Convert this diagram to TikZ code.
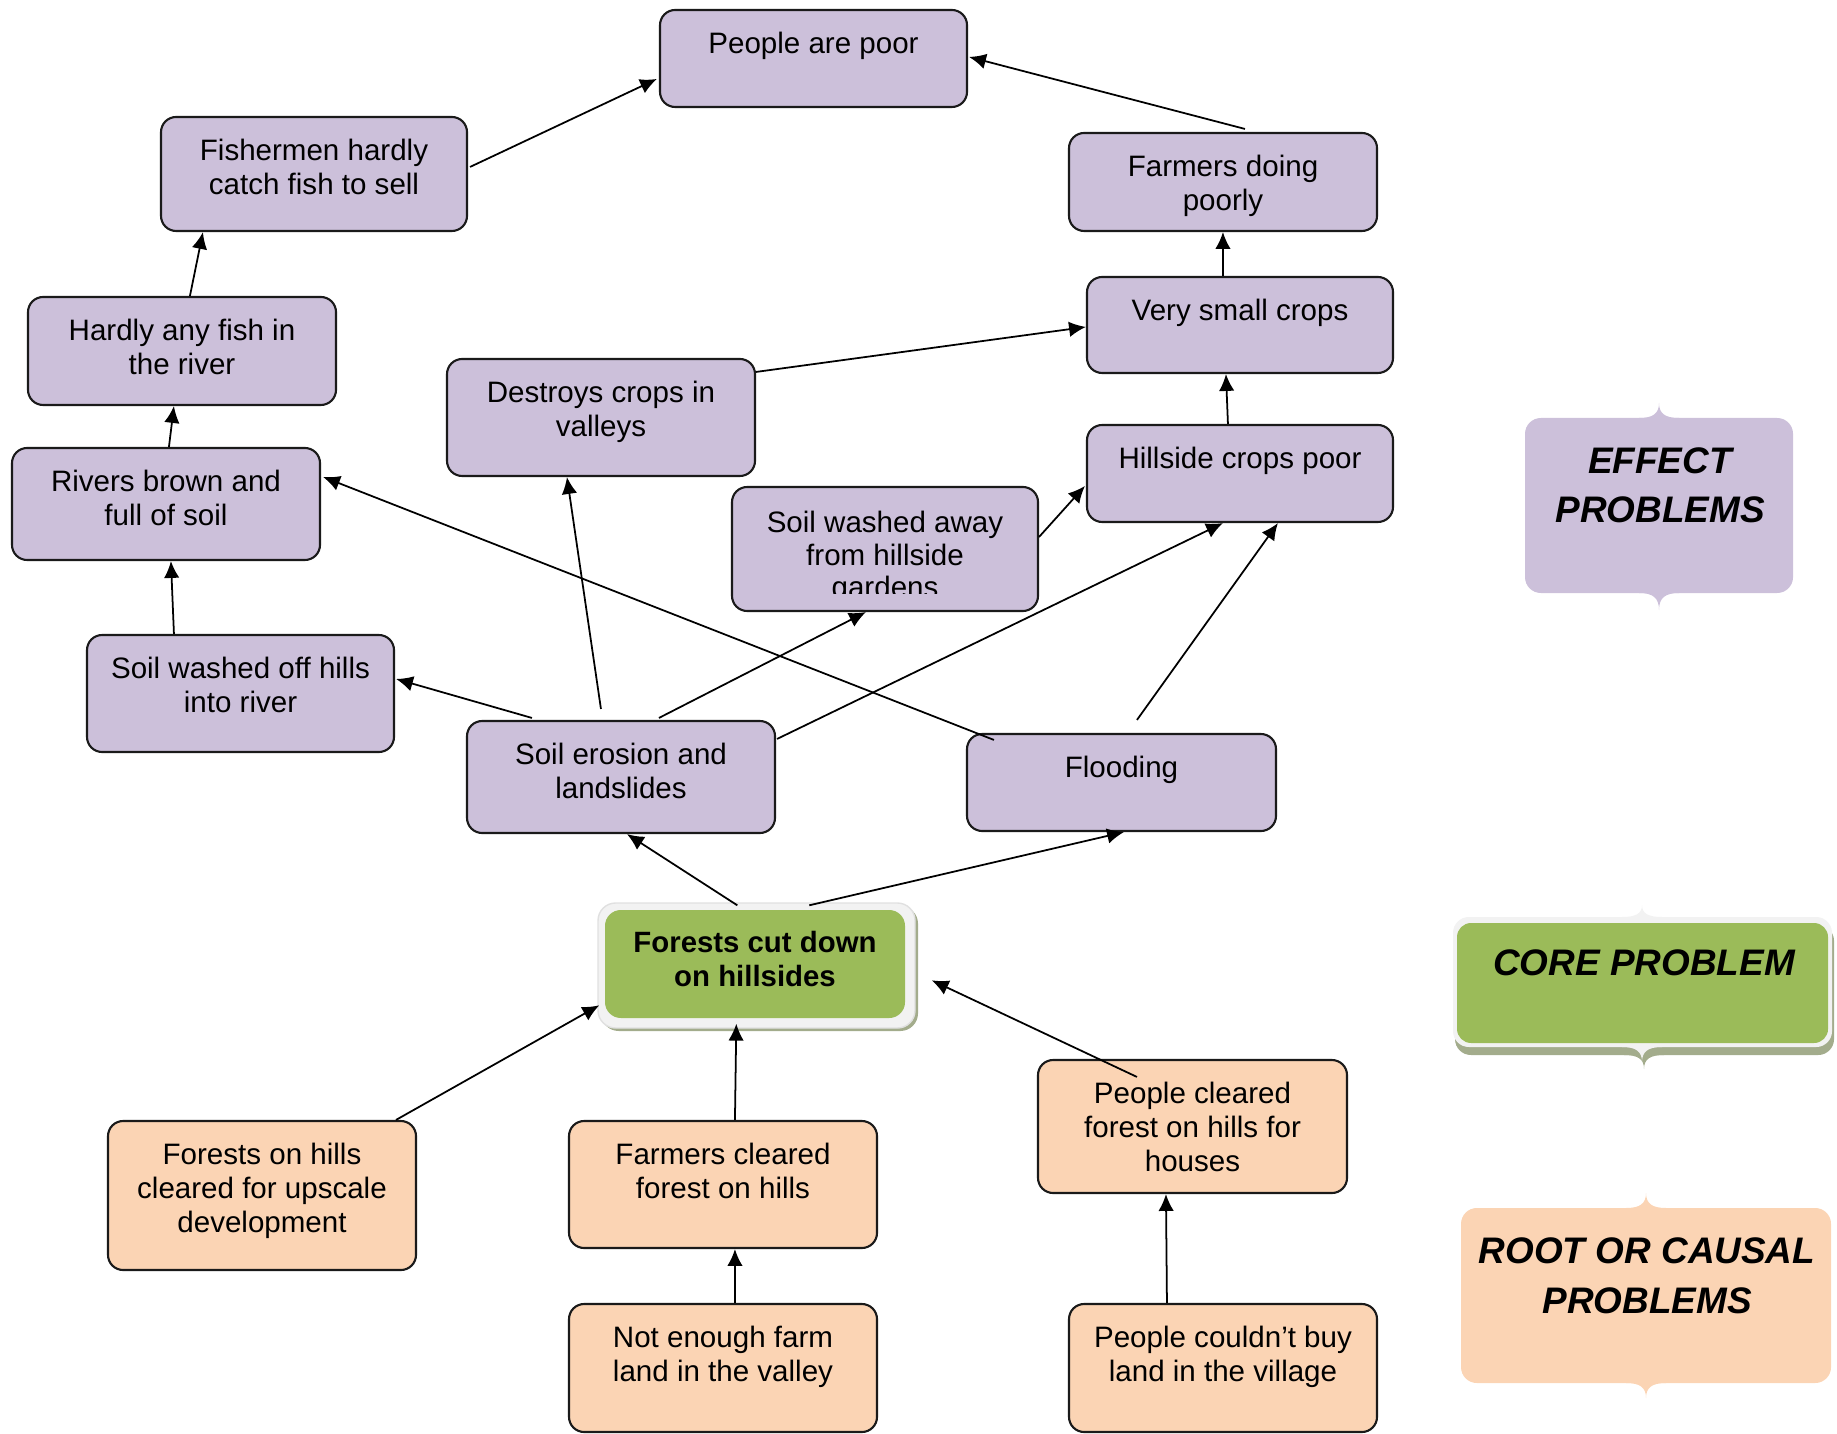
\documentclass[tikz,border=0pt]{standalone}
\usepackage{fontspec}
\setmainfont{Liberation Sans}
\usetikzlibrary{fit,calc,arrows.meta}
\definecolor{effc}{HTML}{CCC0DA}
\definecolor{rootc}{HTML}{FBD4B4}
\definecolor{corec}{HTML}{9BBB59}
\definecolor{edgec}{HTML}{1A1A1A}
\definecolor{coreshadow}{HTML}{A3AC8C}
\definecolor{coreborder}{HTML}{F2F2F2}
\tikzset{
 effbox/.style={draw=edgec, line width=0.6pt, fill=effc, rounded corners=4.3pt, inner sep=0pt},
 rootbox/.style={effbox, fill=rootc},
 txt/.style={anchor=base, align=center, font=\fontsize{8.4}{9.7}\selectfont, inner sep=0pt},
 arr/.style={-{Latex[length=4.8pt,width=4.4pt]}, line width=0.5pt, black},
 lgtxt/.style={anchor=base, align=center, font=\fontsize{10.5}{14.2}\selectfont\bfseries\itshape, inner sep=0pt}
}
% optional arg: number of lines (anchor base = baseline of last line)
\newcommand\pbox[8][1]{\node[#2, fit={(#4,#5) (#6,#7)}] (#3) {};
 \node[txt] (#3-t) at ($(#3.north)+(0,{44.5+(#1-1)*34.1})$) {#8};}
\newcommand\cusp[3]{(#1-20,#2) .. controls (#1-6,#2) and (#1,{#2+(#3-#2)*0.3}) .. (#1,#3) .. controls (#1,{#2+(#3-#2)*0.3}) and (#1+6,#2) .. (#1+20,#2) -- (#1,{#2-(#3-#2)*0.5}) -- cycle}
\begin{document}
\begin{tikzpicture}[x=0.01cm,y=-0.01cm]
\useasboundingbox (0,0) rectangle (1837,1434);

% effect boxes
\pbox{effbox}{poor}{660}{10}{967}{107}{People are poor}
\pbox[2]{effbox}{fish}{161}{117}{467}{231}{Fishermen hardly\\catch fish to sell}
\pbox[2]{effbox}{fdp}{1069}{133}{1377}{231}{Farmers doing\\poorly}
\pbox{effbox}{vsc}{1087}{277}{1393}{373}{Very small crops}
\pbox[2]{effbox}{hafish}{28}{297}{336}{405}{Hardly any fish in\\the river}
\pbox[2]{effbox}{destroys}{447}{359}{755}{476}{Destroys crops in\\valleys}
\pbox{effbox}{hcp}{1087}{425}{1393}{522}{Hillside crops poor}
\pbox[2]{effbox}{rivers}{12}{448}{320}{560}{Rivers brown and\\full of soil}
\node[effbox, fit={(732,487) (1038,611)}] (swa) {};
\begin{scope}
\clip (732,487) rectangle (1038,593);
\node[txt, font=\fontsize{8.4}{9.2}\selectfont] (swa-t) at ($(swa.north)+(0,{47+2*32.3})$) {Soil washed away\\from hillside\\gardens};
\end{scope}
\pbox[2]{effbox}{swo}{87}{635}{394}{752}{Soil washed off hills\\into river}
\pbox[2]{effbox}{ero}{467}{721}{775}{833}{Soil erosion and\\landslides}
\pbox{effbox}{flood}{967}{734}{1276}{831}{Flooding}

% root boxes
\pbox[3]{rootbox}{fohc}{108}{1121}{416}{1270}{Forests on hills\\cleared for upscale\\development}
\pbox[2]{rootbox}{fcl}{569}{1121}{877}{1248}{Farmers cleared\\forest on hills}
\pbox[3]{rootbox}{pcl}{1038}{1060}{1347}{1193}{People cleared\\forest on hills for\\houses}
\pbox[2]{rootbox}{nef}{569}{1304}{877}{1432}{Not enough farm\\land in the valley}
\pbox[2]{rootbox}{pcb}{1069}{1304}{1377}{1432}{People couldn’t buy\\land in the village}

% core
\fill[coreshadow, rounded corners=5pt] (601,906) rectangle (918,1031);
\node[draw=black!12, line width=0.4pt, fill=coreborder, rounded corners=5pt, inner sep=0pt, fit={(598,903) (915,1028)}] (core) {};
\fill[corec, rounded corners=4.5pt] (605,910) rectangle (905,1018);
\node[txt, font=\fontsize{8.35}{9.4}\selectfont\bfseries] (core-t) at (755,986) {Forests cut down\\on hillsides};

% connectors
\draw[arr] ($(fish.north east)+(2,51)$) -- ($(poor.north west)+(-2,70)$);
\draw[arr] ($(fdp.north west)+(177,-3)$) -- ($(poor.north east)+(1,48)$);
\draw[arr] ($(hafish.north west)+(163,0)$) -- ($(fish.south west)+(43,0)$);
\draw[arr] ($(vsc.north west)+(137,0)$) -- ($(fdp.south west)+(155,0)$);
\draw[arr] ($(destroys.north east)+(0,14)$) -- ($(vsc.north west)+(0,51)$);
\draw[arr] ($(hcp.north west)+(142,0)$) -- ($(vsc.south west)+(140,0)$);
\draw[arr] ($(rivers.north west)+(158,0)$) -- ($(hafish.south west)+(147,0)$);
\draw[arr] ($(swo.north west)+(88,0)$) -- ($(rivers.south west)+(160,0)$);
\draw[arr] ($(ero.north west)+(66,-2)$) -- ($(swo.north east)+(1,45)$);
\draw[arr] ($(ero.north west)+(135,-11)$) -- ($(destroys.south west)+(121,0)$);
\draw[arr] ($(ero.north west)+(193,-2)$) -- ($(swa.south west)+(135,0)$);
\draw[arr] ($(ero.north east)+(1,19)$) -- ($(hcp.south west)+(137,0)$);
\draw[arr] ($(swa.north east)+(0,51)$) -- ($(hcp.north west)+(-1,62)$);
\draw[arr] ($(flood.north west)+(28,7)$) -- ($(rivers.north east)+(2,30)$);
\draw[arr] ($(flood.north west)+(171,-13)$) -- ($(hcp.south west)+(192,0)$);
\draw[arr] ($(core.north west)+(140,3)$) -- ($(ero.south west)+(161,0)$);
\draw[arr] ($(core.north west)+(212,3)$) -- ($(flood.south west)+(158,0)$);
\draw[arr] ($(fohc.north west)+(289,0)$) -- ($(core.north west)+(2,103)$);
\draw[arr] ($(fcl.north west)+(167,0)$) -- ($(core.south west)+(139,-5)$);
\draw[arr] ($(pcl.north west)+(100,18)$) -- ($(core.north east)+(16,78)$);
\draw[arr] ($(nef.north west)+(167,0)$) -- ($(fcl.south west)+(167,0)$);
\draw[arr] ($(pcb.north west)+(99,0)$) -- ($(pcl.south west)+(129,0)$);

% legend: effect
\fill[effc, rounded corners=4.5pt] (1525,418) rectangle (1793,593);
\fill[effc] \cusp{1659}{418}{403};
\fill[effc] \cusp{1659}{593}{610};
\node[lgtxt] (leg-eff) at (1660,523) {EFFECT\\PROBLEMS};

% legend: core
\fill[coreshadow, rounded corners=4.5pt] (1455,925) rectangle (1834,1055);
\fill[coreshadow] \cusp{1644}{1055}{1069};
\fill[coreborder, rounded corners=4.5pt] (1453,917) rectangle (1832,1047);
\fill[coreborder] \cusp{1642}{917}{905};
\fill[coreborder] \cusp{1642}{1047}{1062};
\fill[corec, rounded corners=4pt] (1457,923) rectangle (1828,1043);
\node[lgtxt] (leg-core) at (1644,975) {CORE PROBLEM};

% legend: root
\fill[rootc, rounded corners=4.5pt] (1461,1208) rectangle (1831,1383);
\fill[rootc] \cusp{1646}{1208}{1193};
\fill[rootc] \cusp{1646}{1383}{1398};
\node[lgtxt] (leg-root) at (1647,1313) {ROOT OR CAUSAL\\PROBLEMS};
\end{tikzpicture}
\end{document}
